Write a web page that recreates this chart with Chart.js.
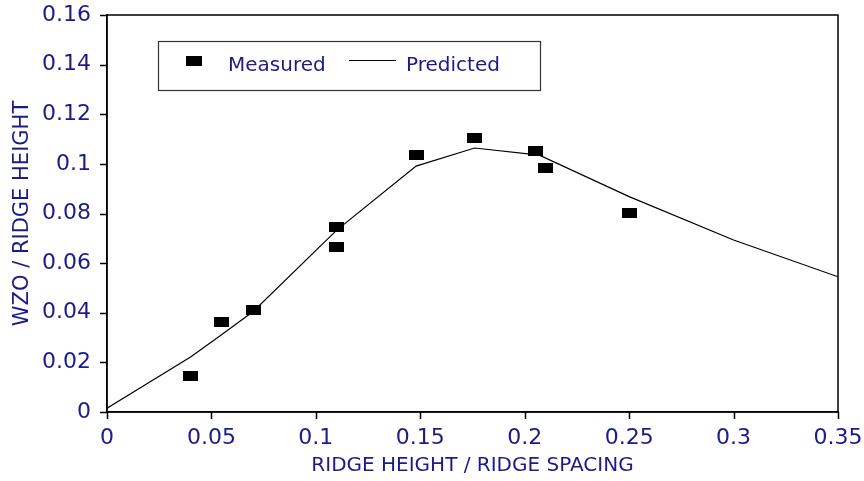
<!DOCTYPE html>
<html>
<head>
<meta charset="utf-8">
<script src="https://cdn.jsdelivr.net/npm/chart.js@4"></script>
<style>
  body { margin: 0; background: #fff; }
  #wrap { width: 864px; height: 481px; }
</style>
</head>
<body>
<div id="wrap"><canvas id="grafico"></canvas></div>
<script>
// valores medidos
const medidoX = [0.04, 0.055, 0.07, 0.11, 0.11, 0.148, 0.176, 0.205, 0.21, 0.25];
const medidoY = [0.0145, 0.0362, 0.0413, 0.0745, 0.0665, 0.1035, 0.1103, 0.1052, 0.0982, 0.0802];

// curva predicha
const predX = [0, 0.04, 0.055, 0.07, 0.11, 0.148, 0.176, 0.207, 0.25, 0.3, 0.35];
const predY = [0.0015, 0.0222, 0.0312, 0.0405, 0.0733, 0.0991, 0.1064, 0.1035, 0.0868, 0.0693, 0.0545];

const ticksX = [0, 0.05, 0.1, 0.15, 0.2, 0.25, 0.3, 0.35];
const ticksY = [0, 0.02, 0.04, 0.06, 0.08, 0.1, 0.12, 0.14, 0.16];

const azul = '#1b1b8c';
const fuente = 'DejaVu Sans';

// marcador rectangular
const marca = document.createElement('canvas');
marca.width = 15;
marca.height = 10;
const mctx = marca.getContext('2d');
mctx.fillStyle = '#000';
mctx.fillRect(0, 0, 15, 10);

const marco = {
  id: 'marco',
  afterDraw(chart) {
    const { ctx, chartArea: a } = chart;
    const sx = chart.scales.x, sy = chart.scales.y;
    ctx.save();
    ctx.strokeStyle = '#000';
    ctx.lineWidth = 1.5;
    ctx.strokeRect(a.left, a.top, a.right - a.left, a.bottom - a.top);

    // marcas de los ejes
    ctx.beginPath();
    ticksX.forEach(v => {
      const px = Math.round(sx.getPixelForValue(v)) + 0.5;
      ctx.moveTo(px, a.bottom);
      ctx.lineTo(px, a.bottom + 7);
    });
    ticksY.forEach(v => {
      const py = Math.round(sy.getPixelForValue(v)) + 0.5;
      ctx.moveTo(a.left, py);
      ctx.lineTo(a.left - 7, py);
    });
    ctx.stroke();

    // leyenda
    const lx = a.left + 51, ly = a.top + 26;
    ctx.lineWidth = 1.2;
    ctx.strokeStyle = '#333';
    ctx.strokeRect(lx + 0.5, ly + 0.5, 382, 49);
    ctx.drawImage(marca, lx + 28, ly + 15, 16, 10);
    ctx.fillStyle = azul;
    ctx.font = '20px "' + fuente + '"';
    ctx.textBaseline = 'alphabetic';
    ctx.fillText(chart.data.datasets[0].label, lx + 70, ly + 30);
    ctx.beginPath();
    ctx.strokeStyle = '#000';
    ctx.lineWidth = 1;
    ctx.moveTo(lx + 191, ly + 19.5);
    ctx.lineTo(lx + 238, ly + 19.5);
    ctx.stroke();
    ctx.fillText(chart.data.datasets[1].label, lx + 248, ly + 30);
    ctx.restore();
  }
};

const etiqueta = v => String(Number(v.toFixed(3)));

const sinRelleno = s => {
  s.paddingTop = 0;
  s.paddingBottom = 0;
  s.paddingLeft = 0;
  s.paddingRight = 0;
};

new Chart(document.getElementById('grafico'), {
  type: 'scatter',
  data: {
    datasets: [
      {
        label: 'Measured',
        data: medidoX.map((x, i) => ({ x: x, y: medidoY[i] })),
        pointStyle: marca,
        pointRadius: 6,
        showLine: false
      },
      {
        label: 'Predicted',
        type: 'line',
        data: predX.map((x, i) => ({ x: x, y: predY[i] })),
        borderColor: '#000',
        borderWidth: 1.2,
        pointRadius: 0,
        tension: 0,
        fill: false
      }
    ]
  },
  options: {
    responsive: true,
    maintainAspectRatio: false,
    animation: false,
    layout: { padding: { top: 15, right: 26, left: 0, bottom: 0 } },
    plugins: {
      legend: { display: false },
      tooltip: { enabled: false }
    },
    scales: {
      x: {
        type: 'linear',
        min: 0,
        max: 0.35,
        afterBuildTicks: s => { s.ticks = ticksX.map(v => ({ value: v })); },
        afterFit: s => { s.height = 69; sinRelleno(s); },
        grid: { display: false, drawTicks: false },
        border: { display: true, color: '#000', width: 1.5 },
        ticks: {
          color: azul,
          padding: 13,
          maxRotation: 0,
          font: { family: fuente, size: 22 },
          callback: v => etiqueta(v)
        },
        title: {
          display: true,
          text: 'RIDGE HEIGHT / RIDGE SPACING',
          color: azul,
          font: { family: fuente, size: 20 },
          padding: { top: 0, bottom: 3 }
        }
      },
      y: {
        type: 'linear',
        min: 0,
        max: 0.16,
        afterBuildTicks: s => { s.ticks = ticksY.map(v => ({ value: v })); },
        afterFit: s => { s.width = 107; sinRelleno(s); },
        grid: { display: false, drawTicks: false },
        border: { display: true, color: '#000', width: 1.5 },
        ticks: {
          color: azul,
          padding: 16,
          font: { family: fuente, size: 22 },
          callback: v => etiqueta(v)
        },
        title: {
          display: true,
          text: 'WZO / RIDGE HEIGHT',
          color: azul,
          font: { family: fuente, size: 21 },
          padding: { top: 10, bottom: 0 }
        }
      }
    }
  },
  plugins: [marco]
});
</script>
</body>
</html>
